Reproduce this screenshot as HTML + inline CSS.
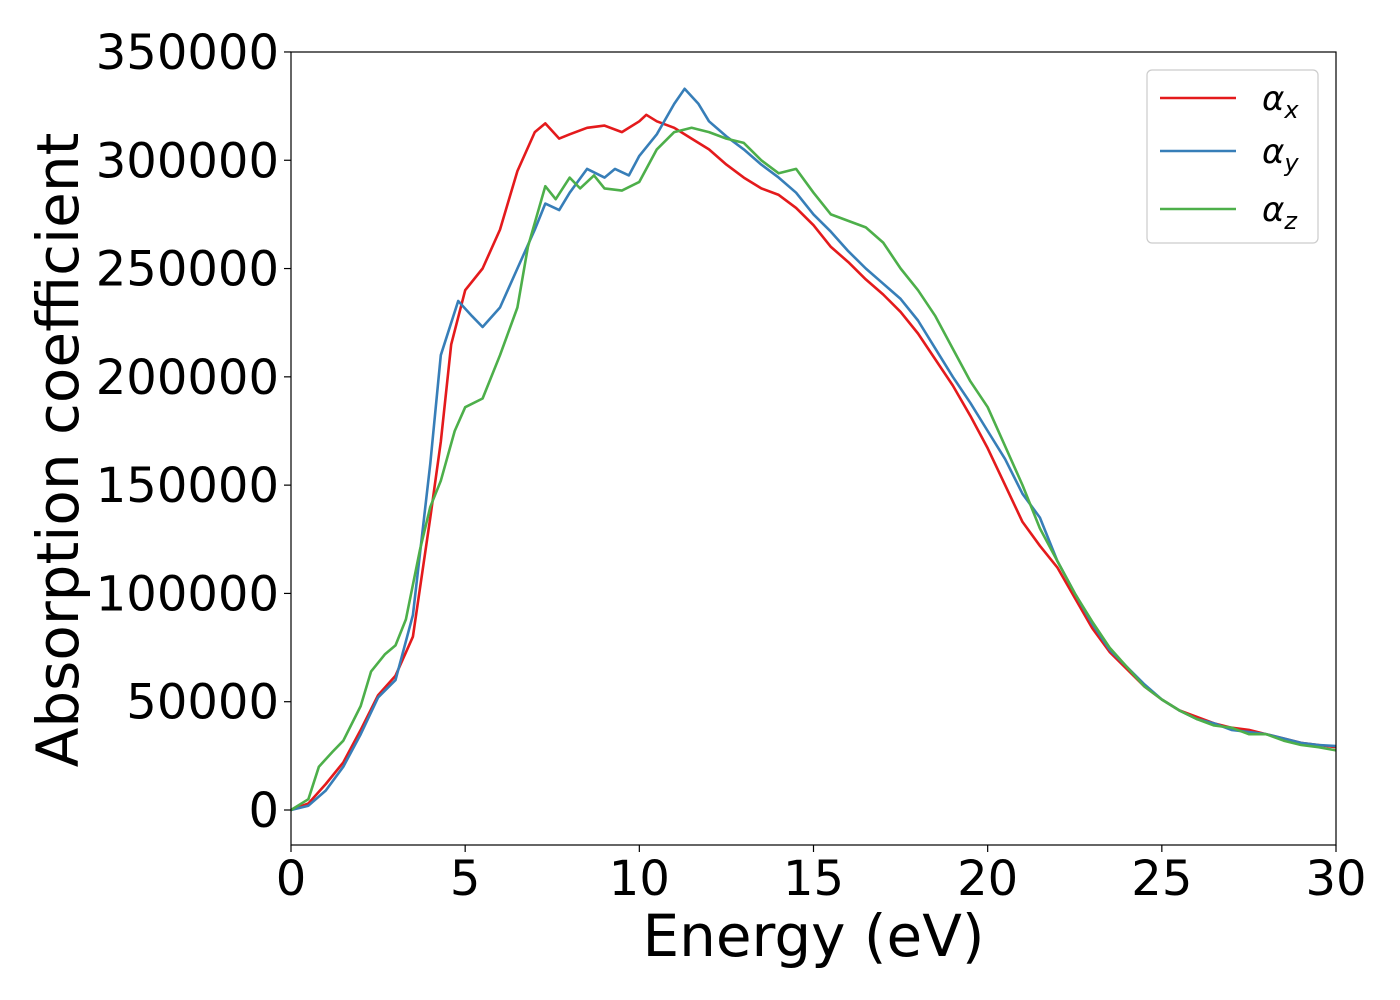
<!DOCTYPE html>
<html><head><meta charset="utf-8"><style>
body{margin:0;background:#fff;}
svg{display:block;font-family:"DejaVu Sans","Liberation Sans",sans-serif;}
</style></head><body>
<svg id="chart" width="1400" height="1000" viewBox="0 0 1400 1000"></svg>
<script>
const seriesNames=["αx","αy","αz"];
const xTicks=[0,5,10,15,20,25,30];
const yTicks=[0,50000,100000,150000,200000,250000,300000,350000];
const xE=[0,0.5,1,1.5,2,2.5,3,3.5,4,4.3,4.6,5,5.5,6,6.5,7,7.3,7.7,8,8.5,9,9.5,10,10.2,10.5,11,11.5,12,12.5,13,13.5,14,14.5,15,15.5,16,16.5,17,17.5,18,18.5,19,19.5,20,20.5,21,21.5,22,22.5,23,23.5,24,24.5,25,25.5,26,26.5,27,27.5,28,28.5,29,29.5,30];
const xV=[0,3000,12000,22000,37000,53000,62000,80000,135000,170000,215000,240000,250000,268000,295000,313000,317000,310000,312000,315000,316000,313000,318000,321000,318000,315000,310000,305000,298000,292000,287000,284000,278000,270000,260000,253000,245000,238000,230000,220000,208000,196000,182000,167000,150000,133000,122000,112000,98000,84000,73000,65000,57000,51000,46000,43000,40000,38000,37000,35000,33000,31000,30000,29000];
const yE=[0,0.5,1,1.5,2,2.5,3,3.5,4,4.3,4.8,5.2,5.5,6,6.5,7,7.3,7.7,8,8.5,9,9.3,9.7,10,10.5,11,11.3,11.7,12,12.5,13,13.5,14,14.5,15,15.5,16,16.5,17,17.5,18,18.5,19,19.5,20,20.5,21,21.5,22,22.5,23,23.5,24,24.5,25,25.5,26,26.5,27,27.5,28,28.5,29,29.5,30];
const yV=[0,2000,9000,20000,35000,52000,60000,90000,160000,210000,235000,228000,223000,232000,250000,268000,280000,277000,285000,296000,292000,296000,293000,302000,312000,326000,333000,326000,318000,311000,305000,298000,292000,285000,275000,267000,258000,250000,243000,236000,226000,213000,200000,188000,175000,162000,146000,135000,115000,100000,86000,74000,66000,58000,51000,46000,42000,40000,37000,36000,35000,33000,31000,30000,29500];
const zE=[0,0.5,0.8,1.2,1.5,2,2.3,2.7,3,3.3,3.7,4,4.3,4.7,5,5.5,6,6.5,6.8,7.3,7.6,8,8.3,8.7,9,9.5,10,10.5,11,11.5,12,12.5,13,13.5,14,14.5,15,15.5,16,16.5,17,17.5,18,18.5,19,19.5,20,20.5,21,21.5,22,22.5,23,23.5,24,24.5,25,25.5,26,26.5,27,27.5,28,28.5,29,29.5,30];
const zV=[0,5000,20000,27000,32000,48000,64000,72000,76000,88000,120000,140000,152000,175000,186000,190000,210000,232000,260000,288000,282000,292000,287000,293000,287000,286000,290000,305000,313000,315000,313000,310000,308000,300000,294000,296000,285000,275000,272000,269000,262000,250000,240000,228000,213000,198000,186000,168000,150000,130000,115000,100000,87000,75000,66000,57000,51000,46000,42000,39000,38000,35000,35000,32000,30000,29000,27500];

const NS="http://www.w3.org/2000/svg";
const svg=document.getElementById('chart');
const L=291,R=1336,T=52,B=845;
const sx=e=>L+(e/30)*(R-L);
const sy=v=>810-v/50000*108.29;
function mk(tag,attrs,parent){const el=document.createElementNS(NS,tag);for(const k in attrs)el.setAttribute(k,attrs[k]);(parent||svg).appendChild(el);return el;}

const series=[[xE,xV,"#e41a1c","x"],[yE,yV,"#377eb8","y"],[zE,zV,"#4daf4a","z"]];
series.forEach((s,i)=>{
  const d=s[0].map((e,j)=>(j?'L':'M')+sx(e).toFixed(1)+' '+sy(s[1][j]).toFixed(1)).join(' ');
  const p=mk('path',{d:d,fill:'none',stroke:s[2],'stroke-width':2.6,'stroke-linejoin':'round'});
  
  
});
const frame=mk('rect',{x:L,y:T,width:R-L,height:B-T,fill:'none',stroke:'#000','stroke-width':1.2});



xTicks.forEach(t=>{
  const x=sx(t);
  mk('line',{x1:x,x2:x,y1:B,y2:B+7,stroke:'#000','stroke-width':1.2});
  const tx=mk('text',{x:x,y:B+50,'font-size':48,'text-anchor':'middle',fill:'#000'});
  tx.textContent=t;
  
  
});
yTicks.forEach(t=>{
  const y=sy(t);
  mk('line',{x1:L-7,x2:L,y1:y,y2:y,stroke:'#000','stroke-width':1.2});
  const tx=mk('text',{x:L-12,y:y+17,'font-size':48,'text-anchor':'end',fill:'#000'});
  tx.textContent=t;
  
  
});
const xt=mk('text',{x:(L+R)/2,y:956,'font-size':58,'text-anchor':'middle',fill:'#000'});
xt.textContent='Energy (eV)';


const yt=mk('text',{x:0,y:0,'font-size':58,'text-anchor':'middle',fill:'#000',transform:'translate(78,450) rotate(-90)'});
yt.textContent='Absorption coefficient';



const lg=mk('g',{});


mk('rect',{x:1147,y:70,width:171,height:173,rx:5,fill:'#fff',stroke:'#ccc','stroke-width':1.2},lg);
series.forEach((s,i)=>{
  const y=[98,151,209][i];
  const ln=mk('line',{x1:1160,x2:1236,y1:y,y2:y,stroke:s[2],'stroke-width':2.6},lg);
  
  
  const tx=mk('text',{x:1262,y:y+12,'font-size':34,'font-style':'italic',fill:'#000'},lg);
  
  
  tx.appendChild(document.createTextNode('α'));
  const sub=mk('tspan',{'font-size':24,dy:8},tx);
  sub.textContent=s[3];
});
</script>
</body></html>
